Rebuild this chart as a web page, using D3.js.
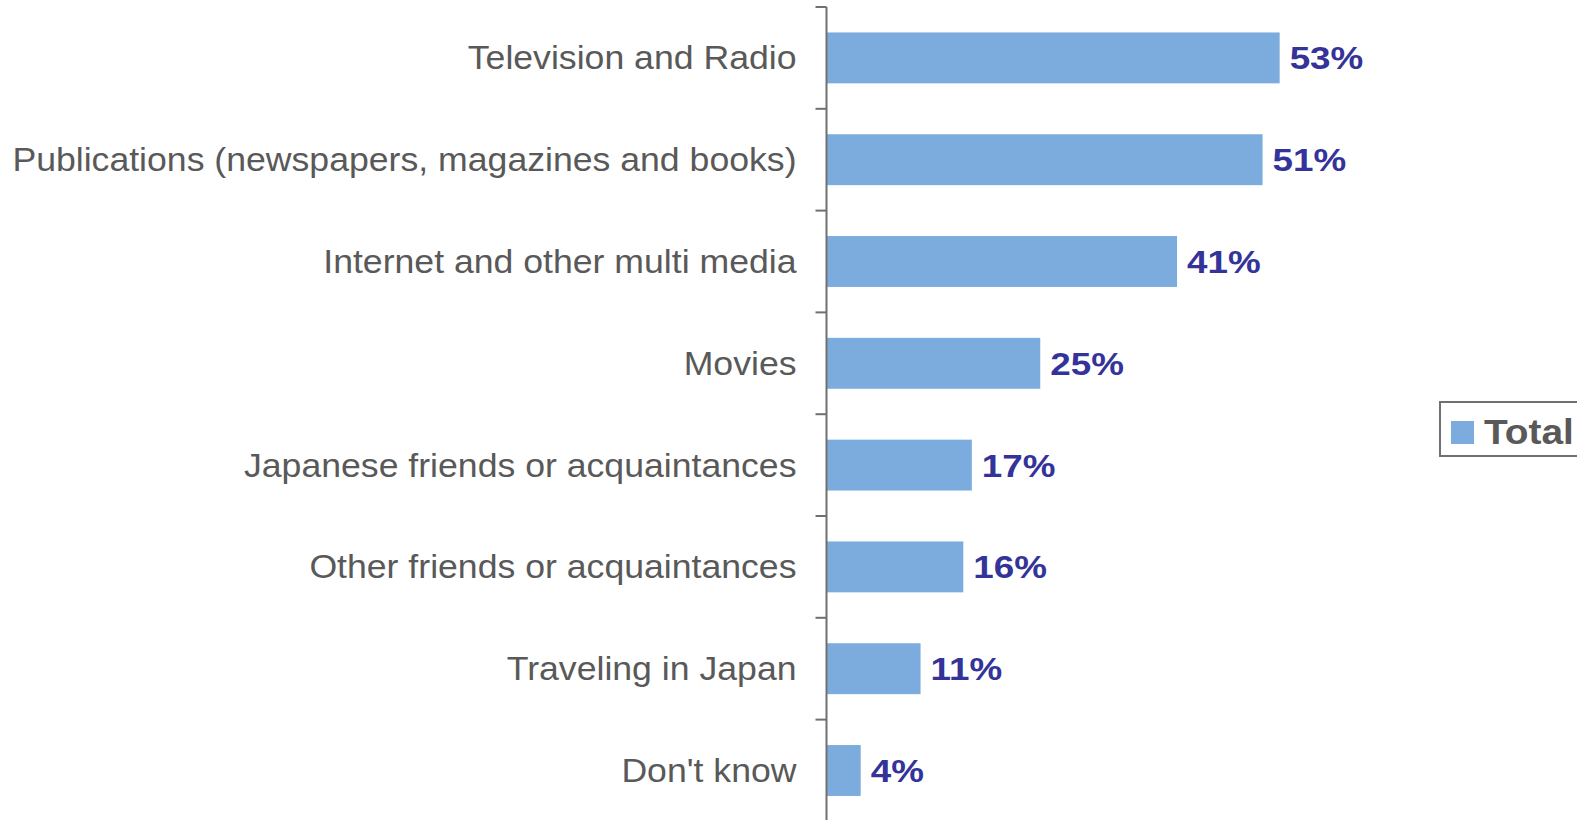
<!DOCTYPE html>
<html>
<head>
<meta charset="utf-8">
<script src="https://cdn.jsdelivr.net/npm/d3@7"></script>
<style>
   body { margin: 0; background: #fff; }
   text { font-family: "Liberation Sans", Arial, sans-serif; }
   .cat { fill: #595959; font-size: 33px; }
   .val { fill: #333399; font-size: 32px; font-weight: bold; }
   .legend { fill: #595959; font-size: 35px; font-weight: bold; }
</style>
</head>
<body>
<div id="chart"></div>
<script>
const width = 1577;
const height = 820;

const categories = [
   "Television and Radio",
   "Publications (newspapers, magazines and books)",
   "Internet and other multi media",
   "Movies",
   "Japanese friends or acquaintances",
   "Other friends or acquaintances",
   "Traveling in Japan",
   "Don't know"
];
const values = [53, 51, 41, 25, 17, 16, 11, 4];

const barColor = "#7cacdd";
const axisX = 826.5;

// the original text is a bit stretched horizontally
const catStretch = 1.08;
const valStretch = 1.15;
const legStretch = 1.11;

const svg = d3.select("#chart").append("svg")
   .attr("width", width)
   .attr("height", height);

// band scale for categories, top at 7, each band ~101.8px
const y = d3.scaleBand()
   .domain(categories)
   .range([7, 7 + 8 * 101.8])
   .paddingInner(0.5)
   .paddingOuter(0.25);

const x = d3.scaleLinear()
   .domain([0, 100])
   .range([axisX, axisX + 855]);

const data = categories.map((c, i) => ({name: c, value: values[i]}));

// bars
svg.selectAll("rect.bar")
   .data(data)
   .enter()
   .append("rect")
   .attr("class", "bar")
   .attr("x", x(0))
   .attr("y", d => y(d.name))
   .attr("width", d => x(d.value) - x(0))
   .attr("height", y.bandwidth())
   .style("fill", barColor);

// axis line and ticks between categories
const axis = svg.append("g");
axis.append("line")
   .attr("x1", axisX).attr("x2", axisX)
   .attr("y1", y.range()[0]).attr("y2", y.range()[1])
   .attr("stroke", "#707070")
   .attr("stroke-width", 2);

d3.range(9).forEach(i => {
   const ty = y.range()[0] + i * (y.range()[1] - y.range()[0]) / 8;
   axis.append("line")
      .attr("x1", axisX - 11).attr("x2", axisX)
      .attr("y1", ty).attr("y2", ty)
      .attr("stroke", "#707070")
      .attr("stroke-width", 2);
});

// category labels
svg.selectAll("text.cat")
   .data(data)
   .enter()
   .append("text")
   .attr("class", "cat")
   .attr("transform", d => `translate(${axisX - 30},${y(d.name) + y.bandwidth() / 2}) scale(${catStretch},1)`)
   .attr("dy", "0.35em")
   .style("text-anchor", "end")
   .text(d => d.name);

// value labels
svg.selectAll("text.val")
   .data(data)
   .enter()
   .append("text")
   .attr("class", "val")
   .attr("transform", d => `translate(${x(d.value) + 10},${y(d.name) + y.bandwidth() / 2}) scale(${valStretch},1)`)
   .attr("dy", "0.36em")
   .text(d => d.value + "%");

// legend
const lg = svg.append("g");
lg.append("rect")
   .attr("x", 1440).attr("y", 402)
   .attr("width", 150).attr("height", 54)
   .attr("fill", "none")
   .attr("stroke", "#707070")
   .attr("stroke-width", 2);
lg.append("rect")
   .attr("x", 1451).attr("y", 421)
   .attr("width", 23).attr("height", 23)
   .style("fill", barColor);
lg.append("text")
   .attr("class", "legend")
   .attr("transform", `translate(1484,431) scale(${legStretch},1)`)
   .attr("dy", "0.36em")
   .text("Total");
</script>
</body>
</html>
